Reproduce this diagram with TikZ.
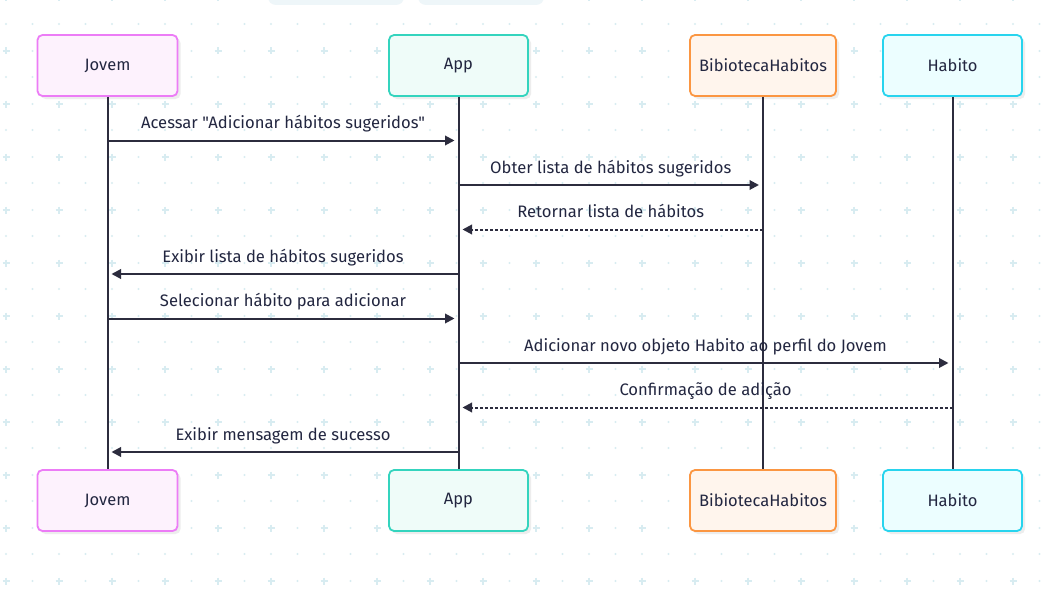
\documentclass[tikz,border=0pt]{standalone}
\usepackage{fontspec}
\setmainfont{Fira Sans}[Ligatures=TeXOff]
\usetikzlibrary{arrows.meta}
\definecolor{gridc}{RGB}{216,236,241}
\definecolor{ink}{RGB}{44,44,62}
\definecolor{txt}{RGB}{34,38,64}
\definecolor{topbtn}{RGB}{238,246,249}
\definecolor{jfill}{RGB}{253,242,253}
\definecolor{jdraw}{RGB}{236,124,246}
\definecolor{afill}{RGB}{239,252,249}
\definecolor{adraw}{RGB}{52,212,190}
\definecolor{bfill}{RGB}{255,245,237}
\definecolor{bdraw}{RGB}{251,150,66}
\definecolor{hfill}{RGB}{236,254,255}
\definecolor{hdraw}{RGB}{40,212,238}
\tikzset{
  actor/.style={rectangle, rounded corners=5pt, minimum width=140pt, minimum height=61pt,
    line width=1.8pt, font=\fontsize{16.5}{19}\selectfont, text=txt, inner sep=0pt},
  shadowbox/.style={fill=black!7, rounded corners=5pt},
  life/.style={draw=ink, line width=2pt},
  msg/.style={draw=ink, line width=2pt, -{Triangle[length=9.5pt,width=9.5pt]}, shorten >=4pt},
  reply/.style={msg, dash pattern=on 3pt off 2pt},
  lbl/.style={font=\fontsize{16.6}{19}\selectfont, text=txt, anchor=base, inner sep=0pt}
}
\begin{document}
\begin{tikzpicture}[x=1pt,y=-1pt]
\useasboundingbox (0,0) rectangle (1047,594);
\fill[white] (0,0) rectangle (1047,594);
% background grid
\foreach \k in {0,...,10} \foreach \i in {0,...,39}
  \fill[gridc] ({6+26.5*\i},{24+53*\k}) circle (1.1pt);
\foreach \k in {0,...,11} \foreach \i in {0,...,19} {
  \fill[gridc] ({32.5+53*\i},{-2+53*\k}) circle (1.1pt);
  \draw[gridc, line width=1.6pt] ({2.5+53*\i},{-2+53*\k}) -- ++(7,0)
       ({6+53*\i},{-5.5+53*\k}) -- ++(0,7);
}
% top buttons (cut off)
\fill[topbtn, rounded corners=8pt] (268,-20) rectangle (404,5);
\fill[topbtn, rounded corners=8pt] (418,-20) rectangle (544,5);
% shadows
\foreach \cx/\w in {107.5/140, 458.5/139, 763/146, 952.5/139} {
  \fill[shadowbox] ({\cx-\w/2+3},{35+3}) rectangle ({\cx+\w/2+3},{96+3});
  \fill[shadowbox] ({\cx-\w/2+3},{470+3}) rectangle ({\cx+\w/2+3},{531+3});
}
% actors
\node[actor, fill=jfill, draw=jdraw] (jt) at (107.5,65.5) {Jovem};
\node[actor, fill=afill, draw=adraw, minimum width=139pt] (at) at (458.5,65.5) {App};
\node[actor, fill=bfill, draw=bdraw, minimum width=146pt] (bt) at (763,65.5) {BibiotecaHabitos};
\node[actor, fill=hfill, draw=hdraw, minimum width=139pt] (ht) at (952.5,65.5) {Habito};
\node[actor, fill=jfill, draw=jdraw] (jb) at (107.5,500.5) {Jovem};
\node[actor, fill=afill, draw=adraw, minimum width=139pt] (ab) at (458.5,500.5) {App};
\node[actor, fill=bfill, draw=bdraw, minimum width=146pt] (bb) at (763,500.5) {BibiotecaHabitos};
\node[actor, fill=hfill, draw=hdraw, minimum width=139pt] (hb) at (952.5,500.5) {Habito};
% lifelines
\draw[life] (jt.south) -- (jb.north);
\draw[life] (at.south) -- (ab.north);
\draw[life] (bt.south) -- (bb.north);
\draw[life] (ht.south) -- (hb.north);
% message end points
\foreach \n/\y in {1/140.5, 2/185, 3/229.5, 4/274, 5/318.5, 6/363, 7/407.5, 8/452} {
  \coordinate (j\n) at (jt.south |- 0,\y);
  \coordinate (a\n) at (at.south |- 0,\y);
  \coordinate (b\n) at (bt.south |- 0,\y);
  \coordinate (h\n) at (ht.south |- 0,\y);
}
\draw[msg] (j1) -- (a1) node[lbl, midway, yshift=12pt] {Acessar "Adicionar hábitos sugeridos"};
\draw[msg] (a2) -- (b2) node[lbl, midway, yshift=12pt] {Obter lista de hábitos sugeridos};
\draw[reply] (b3) -- (a3) node[lbl, midway, yshift=12pt] {Retornar lista de hábitos};
\draw[msg] (a4) -- (j4) node[lbl, midway, yshift=12pt] {Exibir lista de hábitos sugeridos};
\draw[msg] (j5) -- (a5) node[lbl, midway, yshift=12pt] {Selecionar hábito para adicionar};
\draw[msg] (a6) -- (h6) node[lbl, midway, yshift=12pt] {Adicionar novo objeto Habito ao perfil do Jovem};
\draw[reply] (h7) -- (a7) node[lbl, midway, yshift=12pt] {Confirmação de adição};
\draw[msg] (a8) -- (j8) node[lbl, midway, yshift=12pt] {Exibir mensagem de sucesso};
\end{tikzpicture}
\end{document}
